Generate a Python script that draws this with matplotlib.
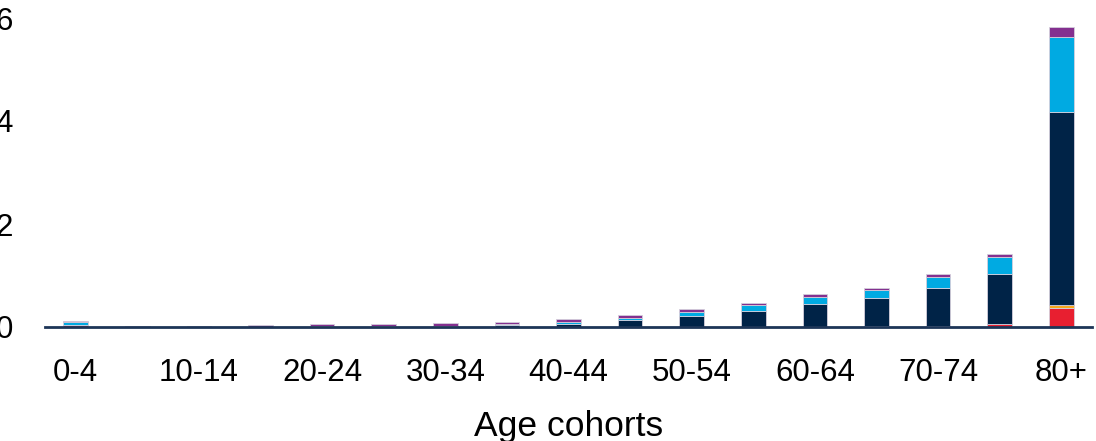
import numpy as np
import matplotlib.pyplot as plt

plt.rcParams['font.family'] = ['Liberation Sans', 'DejaVu Sans']

# Age cohorts and stacked segment values
cohorts = ['0-4', '5-9', '10-14', '15-19', '20-24', '25-29', '30-34', '35-39',
           '40-44', '45-49', '50-54', '55-59', '60-64', '65-69', '70-74', '75-79', '80+']
red = [0.03, 0, 0, 0, 0, 0, 0, 0, 0, 0, 0, 0, 0.005, 0.01, 0.02, 0.05, 0.37]
orange = [0, 0, 0, 0, 0, 0, 0, 0, 0, 0, 0, 0, 0, 0, 0, 0.005, 0.05]
navy = [0, 0.01, 0.01, 0.005, 0.01, 0.01, 0.015, 0.04, 0.06, 0.13, 0.21, 0.32, 0.45,
        0.55, 0.73, 0.98, 3.75]
light_blue = [0.06, 0, 0, 0, 0.005, 0.005, 0.005, 0.02, 0.04, 0.05, 0.09, 0.10, 0.13,
              0.16, 0.23, 0.33, 1.46]
purple = [0.02, 0.005, 0.005, 0.03, 0.05, 0.045, 0.05, 0.04, 0.05, 0.05, 0.04, 0.05,
          0.05, 0.04, 0.05, 0.06, 0.19]

series = [red, orange, navy, light_blue, purple]
colors = ['#E81F30', '#F6A81C', '#002347', '#00AAE2', '#84308F']

fig = plt.figure(figsize=(10.96, 4.41), dpi=100)
ax = fig.add_axes([45 / 1096, (441 - 327) / 441, (1092 - 45) / 1096, (327 - 18) / 441])

x = np.arange(len(cohorts))
bottom = np.zeros(len(cohorts))
for vals, col in zip(series, colors):
    vals = np.array(vals)
    ax.bar(x, vals, width=0.4, bottom=bottom, color=col,
           edgecolor='#d4cfdc', linewidth=0.6)
    bottom += vals

ax.set_xlim(-0.5, 16.5)
ax.set_ylim(0, 6)
ax.set_yticks([0, 2, 4, 6])
ax.set_xticks(x[::2])
ax.set_xticklabels(cohorts[::2])
ax.tick_params(axis='both', length=0, labelsize=22.5)
ax.tick_params(axis='y', pad=23)
ax.tick_params(axis='x', pad=22)
ax.set_xlabel('Age cohorts', fontsize=25.5, labelpad=16)

for s in ['top', 'right', 'left']:
    ax.spines[s].set_visible(False)
ax.spines['bottom'].set_color('#1d3557')
ax.spines['bottom'].set_linewidth(2)

fig.savefig('out.png', dpi=100)
